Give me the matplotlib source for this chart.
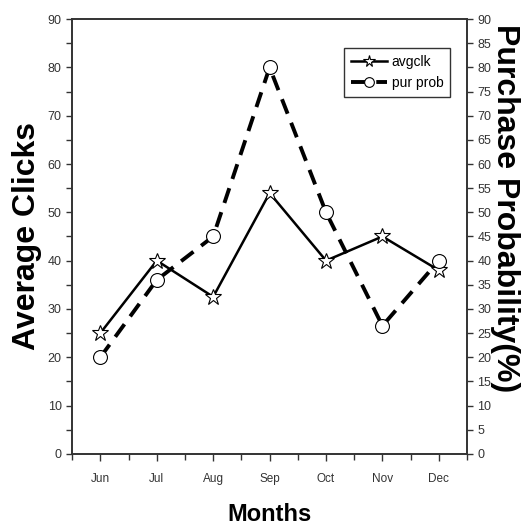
import matplotlib
matplotlib.use("Agg")
import matplotlib.pyplot as plt
from matplotlib import font_manager
from matplotlib.ticker import MultipleLocator

months = ["Jun", "Jul", "Aug", "Sep", "Oct", "Nov", "Dec"]
avg_clicks = [25, 40, 32.5, 54, 40, 45, 38]
pur_prob = [20, 36, 45, 80, 50, 26.5, 40]

installed = {f.name for f in font_manager.fontManager.ttflist}


def pick(*names):
    for n in names:
        if n in installed:
            return n
    return "DejaVu Sans"


narrow = pick("Liberation Sans Narrow", "DejaVu Sans Condensed", "Liberation Sans")
arial = pick("Liberation Sans", "DejaVu Sans")

fig = plt.figure(figsize=(5.23, 5.32), dpi=100)
ax = fig.add_axes([0.138, 0.147, 0.755, 0.817])
ax2 = ax.twinx()

x = list(range(len(months)))
l1, = ax.plot(x, avg_clicks, color="black", linewidth=1.8, linestyle="-",
              marker="*", markersize=12, markerfacecolor="white",
              markeredgecolor="black", markeredgewidth=0.8, label="avgclk")
l2, = ax2.plot(x, pur_prob, color="black", linewidth=2.8, linestyle=(0, (4, 2.5)),
               marker="o", markersize=10, markerfacecolor="white",
               markeredgecolor="black", markeredgewidth=0.8, label="pur prob")

ax.set_xlim(-0.5, 6.5)
ax.set_ylim(0, 90)
ax2.set_ylim(0, 90)
ax.set_xticks(x)
ax.set_xticklabels(months, family=narrow, fontsize=8.5)
ax.xaxis.set_minor_locator(MultipleLocator(0.5))
ax.yaxis.set_major_locator(MultipleLocator(10))
ax.yaxis.set_minor_locator(MultipleLocator(5))
ax2.yaxis.set_major_locator(MultipleLocator(5))

for a in (ax, ax2):
    for s in a.spines.values():
        s.set_linewidth(1.2)
        s.set_color("#333333")
    a.tick_params(which="both", direction="out", length=4, width=1, colors="#333333")
    for lab in a.get_yticklabels():
        lab.set_family(narrow)
        lab.set_fontsize(9)
ax.tick_params(axis="x", which="major", length=5, pad=9)

ax.set_xlabel("Months", family=narrow, fontsize=17, fontweight="bold", labelpad=13)
ax.set_ylabel("Average Clicks", family=arial, fontsize=23, fontweight="bold", labelpad=4)
ax2.set_ylabel("Purchase Probability(%)", family=arial, fontsize=23, fontweight="bold",
               rotation=270)
ax2.yaxis.set_label_coords(1.135, 0.565)

leg = ax.legend(handles=[l1, l2], loc="upper right", bbox_to_anchor=(0.975, 0.95),
                prop={"family": narrow, "size": 10}, frameon=True, fancybox=False,
                edgecolor="black", handlelength=2.6, borderpad=0.5, labelspacing=0.5,
                handletextpad=0.3, markerscale=0.7)
leg.get_frame().set_linewidth(1.0)

fig.savefig("out.png", dpi=100)
